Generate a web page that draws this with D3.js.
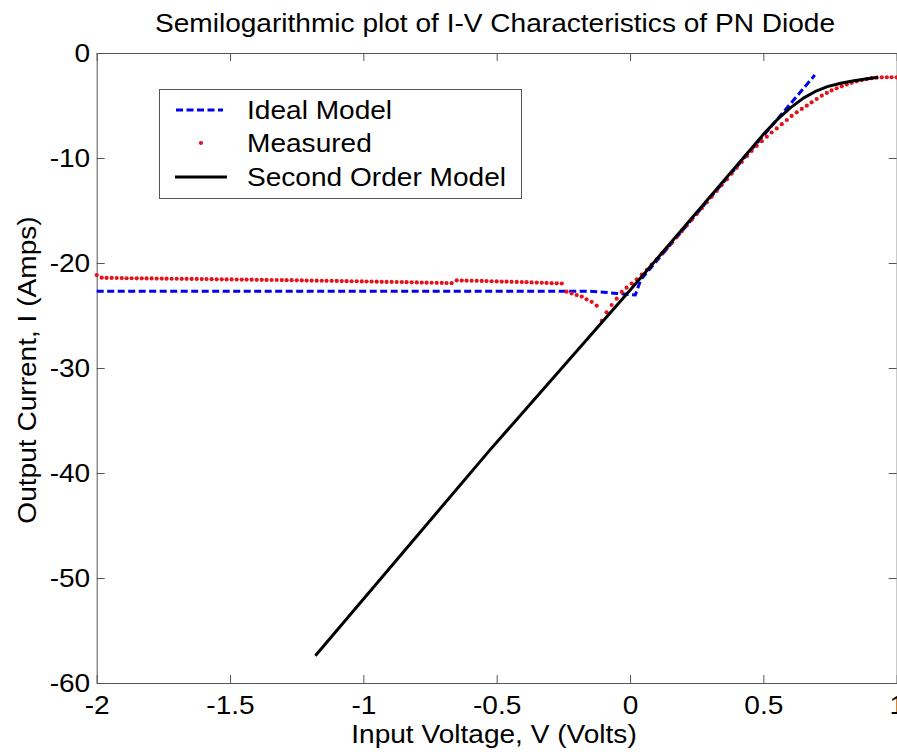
<!DOCTYPE html>
<html>
<head>
<meta charset="utf-8">
<script src="https://cdn.jsdelivr.net/npm/d3@7"></script>
<style>
  body { margin: 0; background: #fff; }
  text { font-family: "Liberation Sans", Arial, sans-serif; fill: #000; }
</style>
</head>
<body>
<div id="chart"></div>
<script>
// tick labels
const xTicks = [-2, -1.5, -1, -0.5, 0, 0.5, 1];
const yTicks = [0, -10, -20, -30, -40, -50, -60];
const legendLabels = ["Ideal Model", "Measured", "Second Order Model"];

// ideal model (blue dashed)
const idealV = [-2, -1.5, -1, -0.5, -0.15, -0.1, -0.05, 0.02, 0.04, 0.3, 0.5, 0.693];
const idealI = [-22.7, -22.7, -22.7, -22.7, -22.7, -22.78, -22.9, -23.05, -21.6, -13.8, -7.87, -2.1];

// measured (red dots)
const measuredV = [
  -2.000, -1.981, -1.963, -1.944, -1.925, -1.906, -1.888, -1.869, -1.850, -1.831,
  -1.813, -1.794, -1.775, -1.756, -1.738, -1.719, -1.700, -1.681, -1.663, -1.644,
  -1.625, -1.606, -1.588, -1.569, -1.550, -1.531, -1.513, -1.494, -1.475, -1.456,
  -1.438, -1.419, -1.400, -1.381, -1.363, -1.344, -1.325, -1.306, -1.288, -1.269,
  -1.250, -1.231, -1.213, -1.194, -1.175, -1.156, -1.138, -1.119, -1.100, -1.081,
  -1.063, -1.044, -1.025, -1.006, -0.988, -0.969, -0.950, -0.931, -0.913, -0.894,
  -0.875, -0.856, -0.838, -0.819, -0.800, -0.781, -0.763, -0.744, -0.725, -0.706,
  -0.688, -0.669, -0.650, -0.631, -0.613, -0.594, -0.575, -0.556, -0.538, -0.519,
  -0.500, -0.481, -0.463, -0.444, -0.425, -0.406, -0.388, -0.369, -0.350, -0.331,
  -0.313, -0.294, -0.275, -0.256, -0.238, -0.219, -0.200, -0.181, -0.163, -0.144,
  -0.125, -0.106, -0.088, -0.069, -0.050, -0.031, -0.013, 0.006, 0.025, 0.044,
  0.063, 0.081, 0.100, 0.119, 0.138, 0.156, 0.175, 0.194, 0.213, 0.231,
  0.250, 0.269, 0.288, 0.306, 0.325, 0.344, 0.363, 0.381, 0.400, 0.419,
  0.438, 0.456, 0.475, 0.494, 0.513, 0.531, 0.550, 0.569, 0.588, 0.606,
  0.625, 0.644, 0.663, 0.681, 0.700, 0.719, 0.738, 0.756, 0.775, 0.794,
  0.813, 0.831, 0.850, 0.869, 0.888, 0.906, 0.925, 0.944, 0.963, 0.981,
  1.000
];
const measuredI = [
  -21.15, -21.40, -21.42, -21.42, -21.43, -21.44, -21.45, -21.45, -21.46, -21.46,
  -21.47, -21.47, -21.48, -21.48, -21.49, -21.50, -21.50, -21.51, -21.51, -21.52,
  -21.52, -21.53, -21.53, -21.54, -21.55, -21.55, -21.56, -21.56, -21.57, -21.58,
  -21.58, -21.59, -21.60, -21.60, -21.61, -21.62, -21.62, -21.63, -21.64, -21.64,
  -21.65, -21.66, -21.67, -21.67, -21.68, -21.69, -21.70, -21.70, -21.71, -21.72,
  -21.73, -21.74, -21.74, -21.75, -21.76, -21.77, -21.78, -21.79, -21.80, -21.80,
  -21.81, -21.82, -21.83, -21.84, -21.85, -21.86, -21.87, -21.88, -21.89, -21.90,
  -21.91, -21.92, -21.66, -21.67, -21.68, -21.69, -21.70, -21.71, -21.72, -21.74,
  -21.75, -21.77, -21.78, -21.79, -21.80, -21.82, -21.83, -21.85, -21.86, -21.88,
  -21.90, -21.92, -21.94, -21.95, -22.73, -22.90, -23.05, -23.20, -23.46, -23.70,
  -24.06, -25.50, -24.70, -24.00, -23.40, -22.75, -22.35, -21.95, -21.55, -21.10,
  -20.65, -20.15, -19.65, -19.10, -18.60, -18.09, -17.53, -16.98, -16.42, -15.89,
  -15.34, -14.78, -14.22, -13.70, -13.14, -12.58, -12.03, -11.50, -10.94, -10.38,
  -9.83, -9.33, -8.85, -8.40, -7.97, -7.57, -7.18, -6.78, -6.38, -5.99,
  -5.65, -5.33, -5.02, -4.70, -4.38, -4.06, -3.80, -3.56, -3.36, -3.17,
  -3.00, -2.84, -2.70, -2.58, -2.48, -2.40, -2.35, -2.32, -2.31, -2.31,
  -2.32
];

// second order model (black)
const secondV = [-1.18, -0.525, 0, 0.5, 0.55, 0.6, 0.65, 0.7, 0.74, 0.79, 0.84, 0.89, 0.93];
const secondI = [-57.4, -37.8, -22.6, -7.75, -6.4, -5.25, -4.3, -3.6, -3.2, -2.88, -2.65, -2.45, -2.32];

const width = 897, height = 756;
const plot = { left: 96.7, right: 896.7, top: 53, bottom: 683 };
const sx = 1.08;   // text in the picture is a bit wider than Arial
const fs = "26px";
const axisColor = "#555";

const svg = d3.select("#chart").append("svg")
  .attr("width", width)
  .attr("height", height);

const x = d3.scaleLinear().domain([-2, 1]).range([plot.left, plot.right]);
const y = d3.scaleLinear().domain([-60, 0]).range([plot.bottom, plot.top]);

function styleAxis(g) {
  g.select(".domain").attr("stroke", axisColor);
  g.selectAll(".tick line").attr("stroke", axisColor);
  g.selectAll("text")
    .style("font-size", fs)
    .attr("transform", `scale(${sx},1)`);
}

// axes, MATLAB style ticks pointing inward
svg.append("g")
  .attr("transform", `translate(0,${plot.bottom})`)
  .call(d3.axisBottom(x).tickValues(xTicks).tickSize(-8).tickSizeOuter(0).tickPadding(13).tickFormat(d => String(d)))
  .call(styleAxis);

svg.append("g")
  .attr("transform", `translate(${plot.left},0)`)
  .call(d3.axisLeft(y).tickValues(yTicks).tickSize(-8).tickSizeOuter(0).tickPadding(6).tickFormat(d => String(d)))
  .call(styleAxis);

svg.append("g")
  .attr("transform", `translate(0,${plot.top})`)
  .call(d3.axisTop(x).tickValues(xTicks).tickSize(-8).tickSizeOuter(0).tickFormat(""))
  .call(styleAxis);

svg.append("g")
  .attr("transform", `translate(${plot.right},0)`)
  .call(d3.axisRight(y).tickValues(yTicks).tickSize(-8).tickSizeOuter(0).tickFormat(""))
  .call(styleAxis);

// series
const line = d3.line().x(d => x(d[0])).y(d => y(d[1]));

const ideal = idealV.map((v, i) => [v, idealI[i]]);
const measured = measuredV.map((v, i) => [v, measuredI[i]]);
const second = secondV.map((v, i) => [v, secondI[i]]);

svg.append("path")
  .datum(ideal)
  .attr("fill", "none")
  .attr("stroke", "#0000f0")
  .attr("stroke-width", 3)
  .attr("stroke-dasharray", "7,3.5")
  .attr("d", line);

svg.append("g")
  .selectAll("circle")
  .data(measured)
  .join("circle")
  .attr("cx", d => x(d[0]))
  .attr("cy", d => y(d[1]))
  .attr("r", 2.1)
  .attr("fill", "#e3121b");

svg.append("path")
  .datum(second)
  .attr("fill", "none")
  .attr("stroke", "#000")
  .attr("stroke-width", 3)
  .attr("stroke-linejoin", "round")
  .attr("d", line);

// text helper: stretched label
function label(tx, ty, str, rot) {
  svg.append("text")
    .attr("transform", `translate(${tx},${ty})` + (rot ? ` rotate(${rot})` : "") + ` scale(${sx},1)`)
    .attr("text-anchor", "middle")
    .style("font-size", fs)
    .text(str);
}

label(495, 32, "Semilogarithmic plot of I-V Characteristics of PN Diode");
label(494, 743, "Input Voltage, V (Volts)");
label(36, 370, "Output Current, I (Amps)", -90);

// legend
const leg = svg.append("g");
leg.append("rect")
  .attr("x", 159.5).attr("y", 89.5)
  .attr("width", 362).attr("height", 109)
  .attr("fill", "#fff")
  .attr("stroke", axisColor);

const rowY = [110, 143, 177];
leg.append("line")
  .attr("x1", 176).attr("x2", 223).attr("y1", rowY[0]).attr("y2", rowY[0])
  .attr("stroke", "#0000f0").attr("stroke-width", 3).attr("stroke-dasharray", "7,3.5");
leg.append("circle")
  .attr("cx", 201).attr("cy", rowY[1]).attr("r", 2.1).attr("fill", "#e3121b");
leg.append("line")
  .attr("x1", 175).attr("x2", 227).attr("y1", rowY[2]).attr("y2", rowY[2])
  .attr("stroke", "#000").attr("stroke-width", 3);

leg.selectAll("text.lbl")
  .data(legendLabels)
  .join("text")
  .attr("class", "lbl")
  .attr("transform", (d, i) => `translate(247,${rowY[i] + 9}) scale(${sx},1)`)
  .style("font-size", fs)
  .text(d => d);
</script>
</body>
</html>
